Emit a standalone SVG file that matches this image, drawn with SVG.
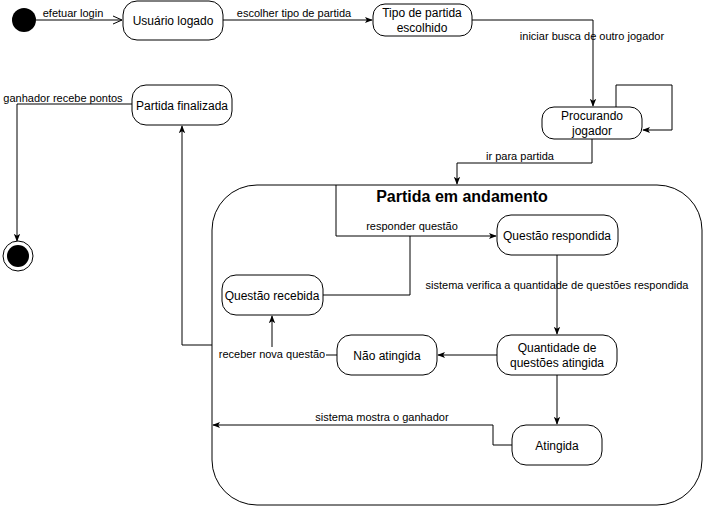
<svg xmlns="http://www.w3.org/2000/svg" width="703" height="506" viewBox="0 0 703 506">
<defs>
<marker id="fa" viewBox="0 0 10 10" refX="9" refY="5" markerWidth="8" markerHeight="8" orient="auto" markerUnits="userSpaceOnUse">
<path d="M0,1 L10,5 L0,9 L2.5,5 Z" fill="#000"/>
</marker>
<marker id="oa" viewBox="0 0 10 10" refX="9" refY="5" markerWidth="10" markerHeight="10" orient="auto" markerUnits="userSpaceOnUse">
<path d="M0,1 L9,5 L0,9" fill="none" stroke="#000" stroke-width="1"/>
</marker>
</defs>
<style>
.n{fill:#fff;stroke:#000;stroke-width:1}
.t{font-family:"Liberation Sans",Arial,sans-serif;font-size:12px;fill:#000;text-anchor:middle}
.l{font-family:"Liberation Sans",Arial,sans-serif;font-size:11px;fill:#000;text-anchor:middle}
.e{fill:none;stroke:#000;stroke-width:1}
.lb{fill:#fff}
</style>
<rect width="703" height="506" fill="#fff"/>

<g id="container">
<rect x="212" y="185" width="490" height="320" rx="45" ry="45" class="n"/>
<text x="462" y="202" class="t" style="font-weight:bold;font-size:16px">Partida em andamento</text>
</g>

<g id="edges">
<path d="M36,20 L122,20" class="e" marker-end="url(#oa)"/>
<path d="M223,20 L372,20" class="e" marker-end="url(#fa)"/>
<path d="M472,20 L593,20 L593,106" class="e" marker-end="url(#fa)"/>
<path d="M616,107 L616,85 L672,85 L672,130 L643,130" class="e" marker-end="url(#fa)"/>
<path d="M592,139 L592,163 L457,163 L457,184" class="e" marker-end="url(#fa)"/>
<path d="M336,185 L336,236 L496,236" class="e" marker-end="url(#fa)"/>
<path d="M323,295 L410,295 L410,236" class="e"/>
<path d="M557,255 L557,334" class="e" marker-end="url(#fa)"/>
<path d="M497,355 L438,355" class="e" marker-end="url(#fa)"/>
<path d="M337,355 L272,355 L272,316" class="e" marker-end="url(#fa)"/>
<path d="M557,375 L557,424" class="e" marker-end="url(#fa)"/>
<path d="M512,445 L493,445 L493,425 L213,425" class="e" marker-end="url(#fa)"/>
<path d="M212,345 L182,345 L182,126" class="e" marker-end="url(#fa)"/>
<path d="M132,104 L17,104 L17,241" class="e" marker-end="url(#fa)"/>
<text x="73" y="17" class="l">efetuar login</text>
<text x="294" y="17" class="l">escolher tipo de partida</text>
<text x="592" y="40" class="l">iniciar busca de outro jogador</text>
<text x="520" y="160" class="l">ir para partida</text>
<text x="412" y="230" class="l">responder questão</text>
<text x="557" y="289" class="l">sistema verifica a quantidade de questões respondida</text>
<rect x="218" y="347" width="108" height="14" class="lb"/>
<text x="272" y="358" class="l">receber nova questão</text>
<text x="382" y="421" class="l">sistema mostra o ganhador</text>
<text x="63" y="102" class="l">ganhador recebe pontos</text>
</g>

<g id="start"><circle cx="24" cy="20" r="12" fill="#000"/></g>

<g id="usuario-logado">
<rect x="123" y="1" width="100" height="39" rx="14" class="n"/>
<text x="173" y="25" class="t">Usuário logado</text>
</g>

<g id="tipo-partida">
<rect x="373" y="4" width="99" height="32" rx="12" class="n"/>
<text x="422" y="17" class="t">Tipo de partida</text>
<text x="422" y="32" class="t">escolhido</text>
</g>

<g id="procurando">
<rect x="542" y="107" width="100" height="32" rx="12" class="n"/>
<text x="592" y="120" class="t">Procurando</text>
<text x="592" y="135" class="t">jogador</text>
</g>

<g id="partida-finalizada">
<rect x="132" y="85" width="100" height="40" rx="14" class="n"/>
<text x="182" y="110" class="t">Partida finalizada</text>
</g>

<g id="end">
<circle cx="18" cy="256" r="15" class="n"/>
<circle cx="18" cy="256" r="11" fill="#000"/>
</g>

<g id="questao-respondida">
<rect x="497" y="215" width="121" height="40" rx="14" class="n"/>
<text x="557" y="240" class="t">Questão respondida</text>
</g>

<g id="questao-recebida">
<rect x="222" y="275" width="101" height="40" rx="14" class="n"/>
<text x="272" y="300" class="t">Questão recebida</text>
</g>

<g id="nao-atingida">
<rect x="337" y="335" width="100" height="40" rx="14" class="n"/>
<text x="387" y="360" class="t">Não atingida</text>
</g>

<g id="quantidade-atingida">
<rect x="497" y="335" width="120" height="40" rx="14" class="n"/>
<text x="557" y="352" class="t">Quantidade de</text>
<text x="557" y="367" class="t">questões atingida</text>
</g>

<g id="atingida">
<rect x="512" y="425" width="90" height="40" rx="14" class="n"/>
<text x="557" y="450" class="t">Atingida</text>
</g>
</svg>
